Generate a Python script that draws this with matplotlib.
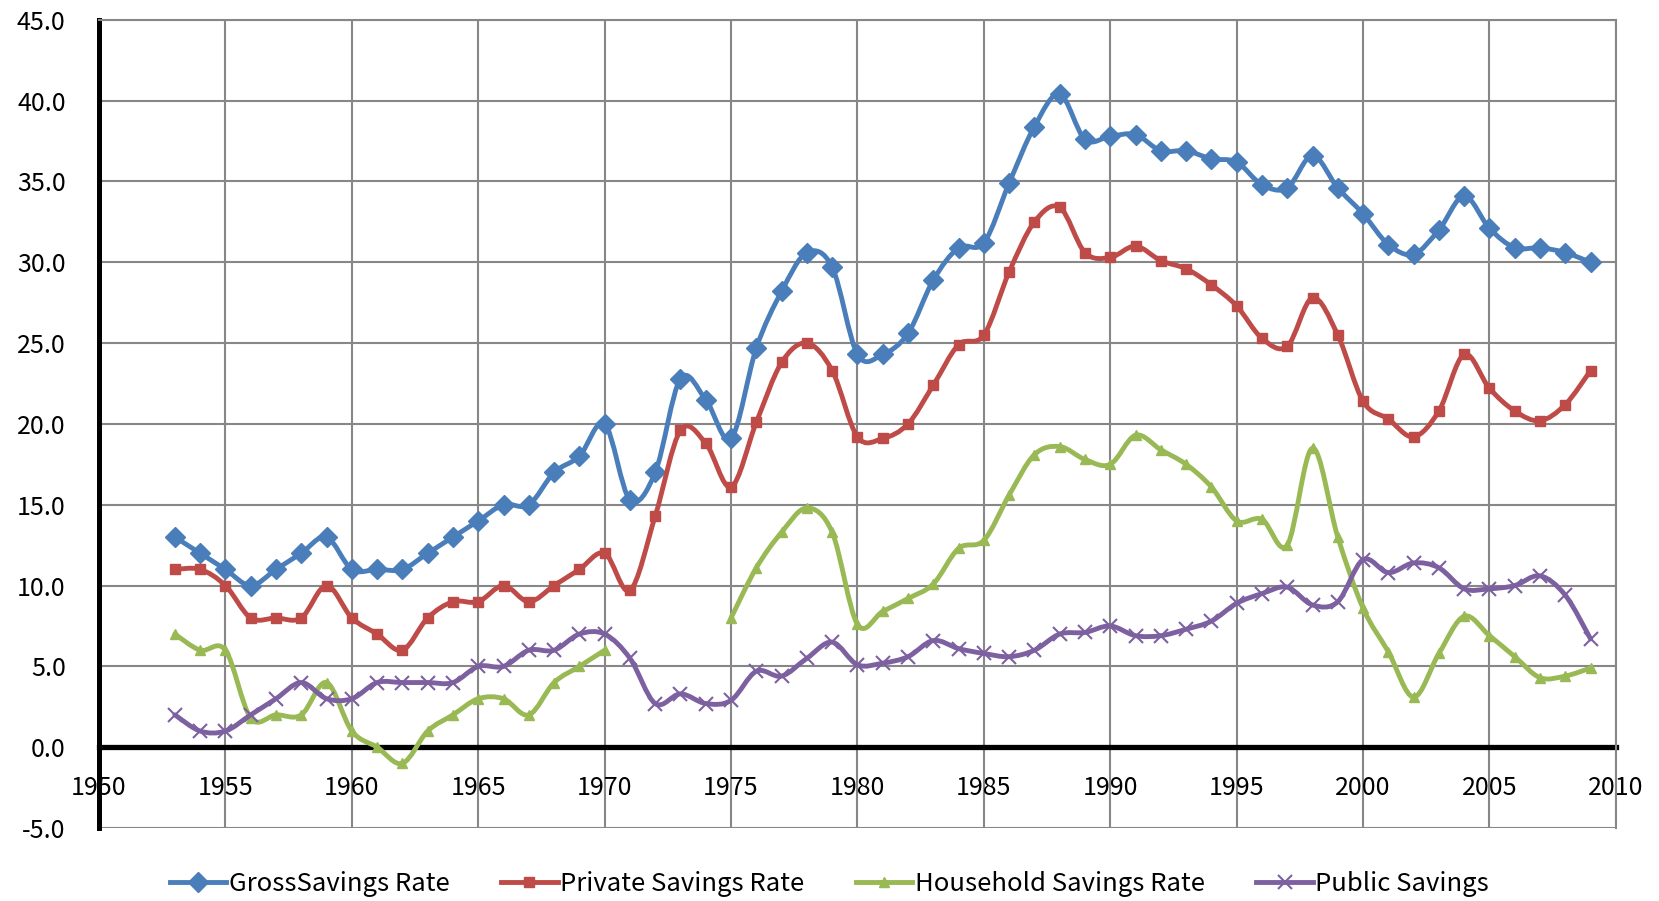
import numpy as np
import matplotlib
matplotlib.use('Agg')
import matplotlib.pyplot as plt
from matplotlib.path import Path
from matplotlib.patches import PathPatch
from matplotlib.lines import Line2D

plt.rcParams['font.family'] = ['Noto Sans CJK KR', 'DejaVu Sans']

years = list(range(1953, 2010))
gross = [13.0, 12.0, 11.0, 10.0, 11.0, 12.0, 13.0, 11.0, 11.0, 11.0,
         12.0, 13.0, 14.0, 15.0, 15.0, 17.0, 18.0, 20.0, 15.3, 17.0,
         22.8, 21.5, 19.1, 24.7, 28.2, 30.6, 29.7, 24.3, 24.3, 25.6,
         28.9, 30.9, 31.2, 34.9, 38.4, 40.4, 37.6, 37.8, 37.9, 36.9,
         36.9, 36.4, 36.2, 34.8, 34.6, 36.6, 34.6, 33.0, 31.1, 30.5,
         32.0, 34.1, 32.1, 30.9, 30.9, 30.6, 30.0]
private = [11.0, 11.0, 10.0, 8.0, 8.0, 8.0, 10.0, 8.0, 7.0, 6.0,
           8.0, 9.0, 9.0, 10.0, 9.0, 10.0, 11.0, 12.0, 9.7, 14.3,
           19.6, 18.8, 16.1, 20.1, 23.8, 25.0, 23.3, 19.2, 19.1, 20.0,
           22.4, 24.9, 25.5, 29.4, 32.5, 33.4, 30.6, 30.3, 31.0, 30.1,
           29.6, 28.6, 27.3, 25.3, 24.8, 27.8, 25.5, 21.4, 20.3, 19.2,
           20.8, 24.3, 22.2, 20.8, 20.2, 21.2, 23.3]
nan = float('nan')
household = [7.0, 6.0, 6.0, 1.8, 2.0, 2.0, 4.0, 1.0, 0.0, -1.0,
             1.0, 2.0, 3.0, 3.0, 2.0, 4.0, 5.0, 6.0, nan, nan,
             nan, nan, 8.0, 11.1, 13.3, 14.8, 13.3, 7.6, 8.4, 9.2,
             10.1, 12.3, 12.8, 15.6, 18.1, 18.6, 17.8, 17.5, 19.3, 18.4,
             17.5, 16.1, 14.0, 14.1, 12.5, 18.5, 13.0, 8.6, 5.9, 3.1,
             5.8, 8.1, 6.9, 5.6, 4.3, 4.4, 4.9]
public = [2.0, 1.0, 1.0, 2.0, 3.0, 4.0, 3.0, 3.0, 4.0, 4.0,
          4.0, 4.0, 5.0, 5.0, 6.0, 6.0, 7.0, 7.0, 5.5, 2.7,
          3.3, 2.7, 2.9, 4.7, 4.4, 5.5, 6.5, 5.1, 5.2, 5.6,
          6.6, 6.1, 5.8, 5.6, 6.0, 7.0, 7.1, 7.5, 6.9, 6.9,
          7.3, 7.8, 8.9, 9.5, 9.9, 8.8, 9.0, 11.6, 10.8, 11.4,
          11.1, 9.8, 9.8, 10.0, 10.6, 9.4, 6.7]

series_names = ['GrossSavings Rate', 'Private Savings Rate',
                'Household Savings Rate', 'Public Savings']
series_data = [gross, private, household, public]
colors = ['#4A7EBB', '#BE4B48', '#98B954', '#7D60A0']
markers = ['D', 's', '^', 'x']
msizes = [10.5, 6.5, 6.5, 10.5]

xticks = list(range(1950, 2011, 5))
yticks = [-5, 0, 5, 10, 15, 20, 25, 30, 35, 40, 45]


def smooth_path(xs, ys):
    pts = np.column_stack([xs, ys]).astype(float)
    n = len(pts)
    verts = [pts[0]]
    codes = [Path.MOVETO]
    for i in range(n - 1):
        p0 = pts[i - 1] if i > 0 else pts[i]
        p1 = pts[i]
        p2 = pts[i + 1]
        p3 = pts[i + 2] if i + 2 < n else pts[i + 1]
        c1 = p1 + (p2 - p0) / 6.0
        c2 = p2 - (p3 - p1) / 6.0
        verts += [c1, c2, p2]
        codes += [Path.CURVE4] * 3
    return Path(verts, codes)


def segments(xs, ys):
    segs, cx, cy = [], [], []
    for x, y in zip(xs, ys):
        if y is None or np.isnan(y):
            if cx:
                segs.append((cx, cy))
            cx, cy = [], []
        else:
            cx.append(x)
            cy.append(y)
    if cx:
        segs.append((cx, cy))
    return segs


fig = plt.figure(figsize=(16.59, 9.01), dpi=100)
ax = fig.add_axes([0.0597, 0.081, 0.9143, 0.897])

ax.set_xlim(1950, 2010)
ax.set_ylim(-5, 45)
ax.set_xticks(xticks)
ax.set_yticks(yticks)
ax.set_yticklabels([f'{v:.1f}' for v in yticks])
ax.grid(True, color='#878787', linewidth=1.5, zorder=0)
ax.set_axisbelow(True)

ax.spines['bottom'].set_position(('data', 0))
ax.spines['bottom'].set_linewidth(3.8)
ax.spines['bottom'].set_color('black')
ax.spines['bottom'].set_zorder(1)
ax.spines['left'].set_linewidth(3.6)
ax.spines['left'].set_color('black')
for s in ['top', 'right']:
    ax.spines[s].set_color('#878787')
    ax.spines[s].set_linewidth(1.5)

ax.tick_params(axis='both', length=0, labelsize=18)
ax.tick_params(axis='x', pad=20)
ax.tick_params(axis='y', pad=24)

handles = []
for k, (name, data) in enumerate(zip(series_names, series_data)):
    col = colors[k]
    for sx, sy in segments(years, data):
        patch = PathPatch(smooth_path(sx, sy), facecolor='none', edgecolor=col,
                          linewidth=3.5, capstyle='round', joinstyle='round',
                          zorder=3 + k)
        ax.add_patch(patch)
        ax.plot(sx, sy, linestyle='none', marker=markers[k], markersize=msizes[k],
                color=col, markeredgecolor=col,
                markeredgewidth=1.5 if markers[k] == 'x' else 1,
                zorder=3.5 + k, clip_on=False)
    handles.append(Line2D([], [], color=col, linewidth=3.5, marker=markers[k],
                          markersize=msizes[k], markeredgecolor=col,
                          markeredgewidth=1.5 if markers[k] == 'x' else 1))

fig.legend(handles, series_names, loc='center', bbox_to_anchor=(0.5, 0.019),
           ncol=4, frameon=False, fontsize=18.5, handlelength=2.2,
           handletextpad=0.1, columnspacing=2.0)

fig.savefig('out.png', dpi=100)
